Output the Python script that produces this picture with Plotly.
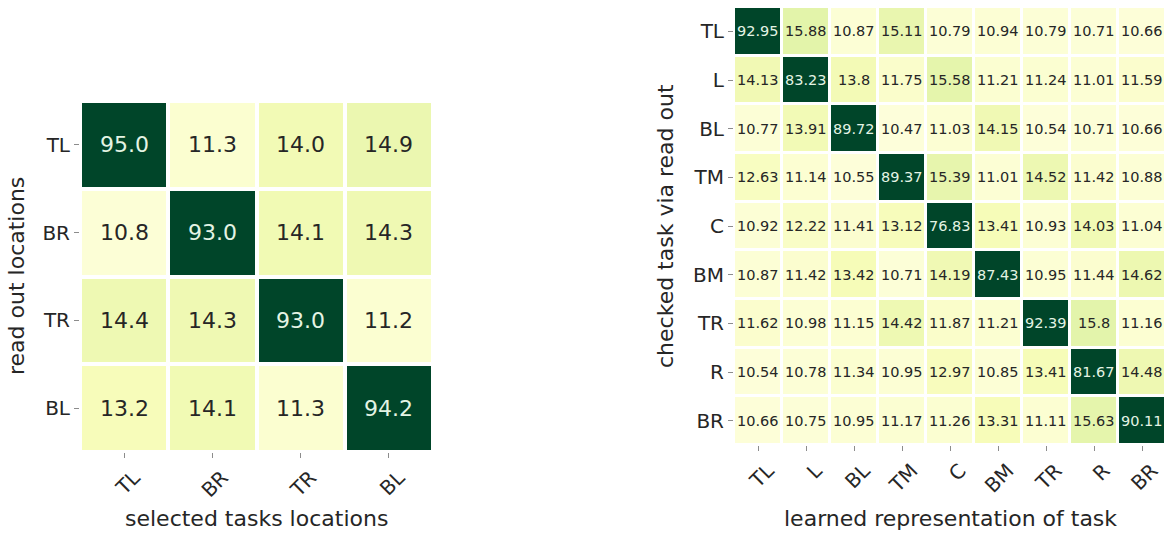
import plotly.graph_objects as go

# ---- data -------------------------------------------------------------
left_rows = ["TL", "BR", "TR", "BL"]
left_cols = ["TL", "BR", "TR", "BL"]
left_vals = [
    [95.0, 11.3, 14.0, 14.9],
    [10.8, 93.0, 14.1, 14.3],
    [14.4, 14.3, 93.0, 11.2],
    [13.2, 14.1, 11.3, 94.2],
]

right_rows = ["TL", "L", "BL", "TM", "C", "BM", "TR", "R", "BR"]
right_cols = ["TL", "L", "BL", "TM", "C", "BM", "TR", "R", "BR"]
right_vals = [
    [92.95, 15.88, 10.87, 15.11, 10.79, 10.94, 10.79, 10.71, 10.66],
    [14.13, 83.23, 13.8, 11.75, 15.58, 11.21, 11.24, 11.01, 11.59],
    [10.77, 13.91, 89.72, 10.47, 11.03, 14.15, 10.54, 10.71, 10.66],
    [12.63, 11.14, 10.55, 89.37, 15.39, 11.01, 14.52, 11.42, 10.88],
    [10.92, 12.22, 11.41, 13.12, 76.83, 13.41, 10.93, 14.03, 11.04],
    [10.87, 11.42, 13.42, 10.71, 14.19, 87.43, 10.95, 11.44, 14.62],
    [11.62, 10.98, 11.15, 14.42, 11.87, 11.21, 92.39, 15.8, 11.16],
    [10.54, 10.78, 11.34, 10.95, 12.97, 10.85, 13.41, 81.67, 14.48],
    [10.66, 10.75, 10.95, 11.17, 11.26, 13.31, 11.11, 15.63, 90.11],
]

# ---- style ------------------------------------------------------------
YLGN = [
    [0.000, "#ffffe5"], [0.125, "#f7fcb9"], [0.250, "#d9f0a3"],
    [0.375, "#addd8e"], [0.500, "#78c679"], [0.625, "#41ab5d"],
    [0.750, "#238443"], [0.875, "#006837"], [1.000, "#004529"],
]
ZMIN, ZMAX = 9.5, 40.0
FONT = "DejaVu Sans, Liberation Sans, sans-serif"
W, H = 1174, 533


def px_x(v):
    return v / W


def px_y(v):
    return (H - v) / H


fig = go.Figure()

fig.add_trace(go.Heatmap(
    z=left_vals, x=left_cols, y=left_rows, xaxis="x", yaxis="y",
    colorscale=YLGN, zmin=ZMIN, zmax=ZMAX, showscale=False,
    xgap=4, ygap=4, hoverinfo="skip",
))
fig.add_trace(go.Heatmap(
    z=right_vals, x=right_cols, y=right_rows, xaxis="x2", yaxis="y2",
    colorscale=YLGN, zmin=ZMIN, zmax=ZMAX, showscale=False,
    xgap=3, ygap=3, hoverinfo="skip",
))

annotations = []


def cell_labels(rows, cols, vals, xref, yref, fmt, size):
    for i, r in enumerate(rows):
        for j, c in enumerate(cols):
            v = vals[i][j]
            dark = v > 50
            annotations.append(dict(
                x=c, y=r, xref=xref, yref=yref, text=fmt(v),
                showarrow=False,
                font=dict(family=FONT, size=size,
                          color="#e4f4e4" if dark else "#262626"),
            ))


cell_labels(left_rows, left_cols, left_vals, "x", "y",
            lambda v: f"{v:.1f}", 22)
cell_labels(right_rows, right_cols, right_vals, "x2", "y2",
            lambda v: f"{v:.4g}", 14.5)

# axis titles
title_font = dict(family=FONT, size=22, color="#262626")
centered = dict(xref="paper", yref="paper", showarrow=False,
                xanchor="center", yanchor="middle", font=title_font)
annotations += [
    dict(text="selected tasks locations", x=px_x(256), y=px_y(518), **centered),
    dict(text="read out locations", x=px_x(16), y=px_y(276), textangle=-90,
         **centered),
    dict(text="learned representation of task", x=px_x(950), y=px_y(518),
         **centered),
    dict(text="checked task via read out", x=px_x(666), y=px_y(226),
         textangle=-90, **centered),
]

tick_font = dict(family=FONT, size=20, color="#262626")
common = dict(showgrid=False, zeroline=False, showline=False,
              ticks="outside", ticklen=5, tickwidth=1, tickcolor="#8c8c8c",
              tickfont=tick_font, automargin=False, fixedrange=True)

fig.update_layout(
    width=W, height=H,
    margin=dict(l=0, r=0, t=0, b=0),
    paper_bgcolor="white", plot_bgcolor="white",
    font=dict(family=FONT),
    xaxis=dict(domain=[px_x(80), px_x(433)], anchor="y",
               tickangle=-45, ticklabelshift=10, **common),
    yaxis=dict(domain=[px_y(452), px_y(101)], anchor="x",
               autorange="reversed", **common),
    xaxis2=dict(domain=[px_x(734), px_x(1166)], anchor="y2",
                tickangle=-45, ticklabelshift=10, **common),
    yaxis2=dict(domain=[px_y(445), px_y(7)], anchor="x2",
                autorange="reversed", **common),
    annotations=annotations,
)

fig.write_html("out.html")
